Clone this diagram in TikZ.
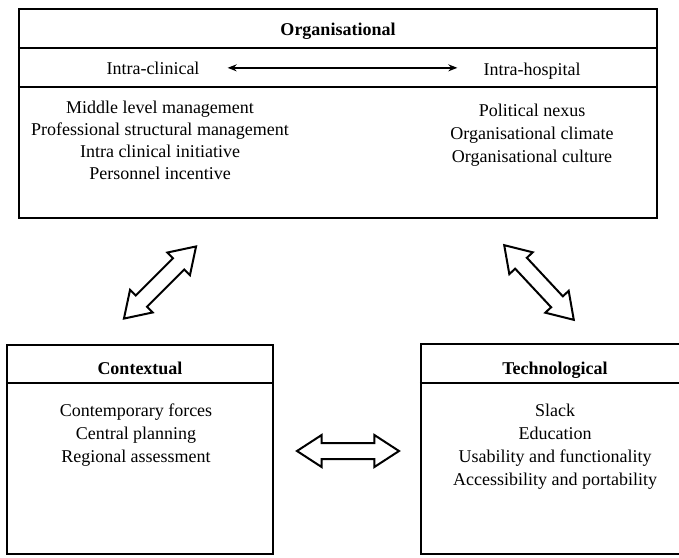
\documentclass[tikz,border=0pt]{standalone}
\usepackage{fontspec}
\setmainfont{Liberation Serif}
\usetikzlibrary{shapes.arrows,arrows.meta}
\begin{document}
\begin{tikzpicture}[x=1pt,y=-1pt,
  box/.style={draw, line width=2.4pt, inner sep=0pt},
  sepline/.style={line width=2.4pt},
  txt/.style={inner sep=0pt, font=\fontsize{18}{23}\selectfont, align=center, anchor=base},
  ttl/.style={txt, font=\fontsize{18}{23}\selectfont\bfseries},
  dblarrow/.style={draw, line width=2pt, shape=double arrow, inner xsep=0pt, inner ysep=7pt,
    double arrow head extend=8pt, double arrow tip angle=66, minimum height=102pt},
  thinarrow/.style={{Stealth[length=9pt,width=7pt]}-{Stealth[length=9pt,width=7pt]}, line width=1.6pt}]
\useasboundingbox (0,0) rectangle (679,557);

% Organisational box
\node[box, minimum width=638pt, minimum height=209pt] (org) at (338,113.5) {};
\draw[sepline] (org.west |- 0,48) -- (org.east |- 0,48);
\draw[sepline] (org.west |- 0,87) -- (org.east |- 0,87);
\node[ttl] (orgt) at (338,35) {Organisational};
\node[txt] (ic) at (153,74) {Intra-clinical};
\node[txt] (ih) at (532,75) {Intra-hospital};
\draw[thinarrow, shorten <=28pt, shorten >=26pt] (ic.east) -- (ic.east -| ih.west);
% multi-line nodes: base anchor is the last line's baseline
\node[txt, font=\fontsize{18}{22}\selectfont] (oleft) at (160,179) {Middle level management\\Professional structural management\\Intra clinical initiative\\Personnel incentive};
\node[txt] (oright) at (532,162) {Political nexus\\Organisational climate\\Organisational culture};

% Contextual box
\node[box, minimum width=266pt, minimum height=209pt] (ctx) at (140,449.5) {};
\draw[sepline] (ctx.west |- 0,383) -- (ctx.east |- 0,383);
\node[ttl] (ctxt) at (140,374) {Contextual};
\node[txt] (ctxl) at (136,462) {Contemporary forces\\Central planning\\Regional assessment};

% Technological box
\node[box, minimum width=259pt, minimum height=210pt] (tech) at (550.5,449) {};
\draw[sepline] (tech.west |- 0,383) -- (tech.east |- 0,383);
\node[ttl] (techt) at (555,374) {Technological};
\node[txt] (techl) at (555,485) {Slack\\Education\\Usability and functionality\\Accessibility and portability};

% Double arrows
\node[dblarrow, rotate=45] (a1) at (160,282.5) {};
\node[dblarrow, rotate=-47] (a2) at (539,282.5) {};
\node[dblarrow] (a3) at (348,451) {};
\end{tikzpicture}
\end{document}
